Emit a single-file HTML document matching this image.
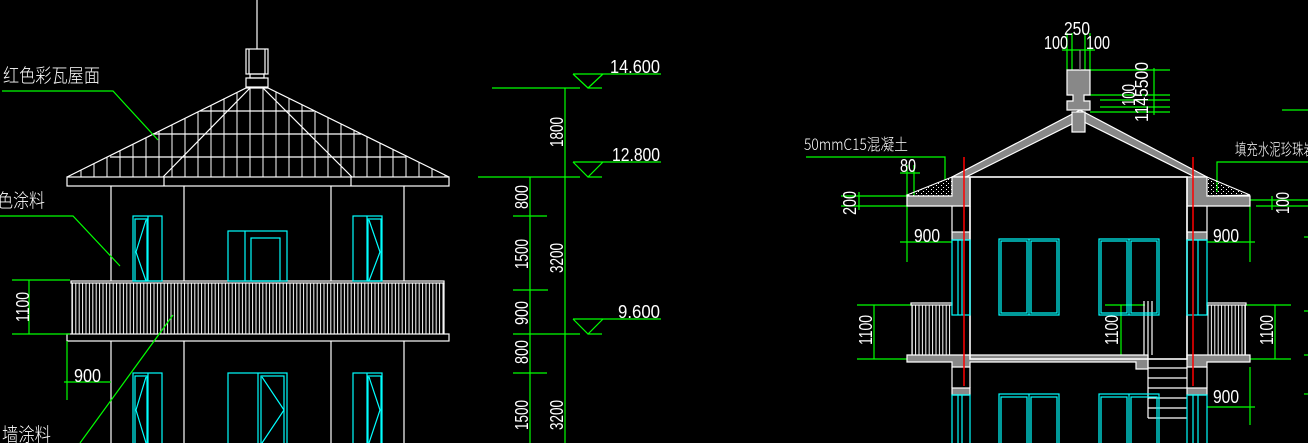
<!DOCTYPE html>
<html><head><meta charset="utf-8"><style>
html,body{margin:0;padding:0;background:#000;width:1308px;height:443px;overflow:hidden}
svg{display:block}
text{font-family:"Liberation Sans","Noto Sans CJK SC",sans-serif;fill:#fff}
.d{font-size:18px}
.cn{font-family:"Noto Sans CJK SC","WenQuanYi Zen Hei",sans-serif;font-size:19px;font-weight:300}
</style></head><body>
<svg width="1308" height="443" viewBox="0 0 1308 443" xmlns="http://www.w3.org/2000/svg">
<defs>
<pattern id="bars" width="3.4" height="10" patternUnits="userSpaceOnUse"><line x1="1" y1="0" x2="1" y2="10" stroke="#fff" stroke-width="1"/></pattern>
<pattern id="tiles" width="13" height="23" patternUnits="userSpaceOnUse" y="111"><line x1="3" y1="0" x2="3" y2="23" stroke="#fff"/></pattern>
<pattern id="dots" width="5" height="4" patternUnits="userSpaceOnUse"><rect x="1" y="1" width="1" height="1" fill="#fff"/><rect x="3" y="3" width="1" height="1" fill="#fff"/></pattern>
<clipPath id="roofc"><polygon points="67,177 246,88 268,88 449,177"/></clipPath>
</defs>
<g fill="none" stroke="#fff" stroke-width="1.2">
<line x1="257" y1="0" x2="257" y2="49"/>
<rect x="246" y="49" width="22" height="25"/>
<line x1="249" y1="49" x2="249" y2="74"/><line x1="265" y1="49" x2="265" y2="74"/>
<rect x="250" y="74" width="14" height="4"/>
<rect x="246" y="78" width="22" height="9"/>
<rect x="67" y="88" width="382" height="89" fill="url(#tiles)" stroke="none" clip-path="url(#roofc)"/>
<polyline points="67,177 246,88 268,88 449,177"/>
<line x1="200" y1="111" x2="314" y2="111"/>
<line x1="153" y1="134" x2="361" y2="134"/>
<line x1="110" y1="157" x2="406" y2="157"/>
<line x1="250" y1="88" x2="163" y2="177"/>
<line x1="263" y1="88" x2="352" y2="177"/>
<rect x="67" y="177" width="382" height="9"/>
<line x1="164" y1="177" x2="164" y2="186"/><line x1="351" y1="177" x2="351" y2="186"/>
<path d="M111 186V281M184 186V281M331 186V281M404 186V281M111 341V443M184 341V443M331 341V443M404 341V443"/>
<rect x="71" y="281" width="373" height="2"/>
<rect x="72" y="283" width="372" height="51" fill="url(#bars)" stroke="none"/>
<line x1="72" y1="283" x2="72" y2="334"/><line x1="444" y1="283" x2="444" y2="334"/>
<rect x="67" y="334" width="382" height="7"/>
</g>
<g fill="none" stroke="#0ff" stroke-width="1.2">
<rect x="133" y="216" width="29" height="65"/><line x1="148" y1="216" x2="148" y2="281"/>
<rect x="135" y="219" width="12" height="62"/><polyline points="146,220 136,252 146,281"/>
<rect x="353" y="216" width="29" height="65"/><line x1="367" y1="216" x2="367" y2="281"/>
<rect x="368" y="219" width="13" height="62"/><polyline points="369,220 380,252 369,281"/>
<rect x="228" y="231" width="59" height="50"/><line x1="245" y1="231" x2="245" y2="281"/>
<rect x="251" y="238" width="29" height="43"/>
<rect x="133" y="373" width="29" height="75"/><line x1="148" y1="373" x2="148" y2="443"/>
<rect x="135" y="376" width="12" height="70"/><polyline points="146,377 136,410 146,443"/>
<rect x="353" y="373" width="29" height="75"/><line x1="367" y1="373" x2="367" y2="443"/>
<rect x="368" y="376" width="13" height="70"/><polyline points="369,377 380,410 369,443"/>
<rect x="228" y="373" width="59" height="75"/><line x1="258" y1="373" x2="258" y2="443"/>
<rect x="261" y="376" width="23" height="70"/><polyline points="262,377 284,410 262,443"/>
</g>
<g fill="none" stroke="#0f0" stroke-width="1.2">
<polyline points="2,91 113,91 158,140"/>
<polyline points="0,216 73,216 120,266"/>
<line x1="80" y1="443" x2="173" y2="315"/>
<path d="M12 280H70M12 334H70M29 280V334M67 341V400M64 382H111"/>
<path d="M573 74H661M573 74L588 88L603 74M588 88H602M492 88H580"/>
<path d="M573 162H661M573 162L588 177L603 162M588 177H602M478 177H580"/>
<path d="M573 319H661M573 319L588 334L603 319M588 334H602M513 334H580"/>
<path d="M565 88V443M530 177V443M513 216H547M513 290H548M513 373H547"/>
<path d="M1067 33V70M1072 33V70M1085 33V70M1090 33V70M1062 50H1095"/>
<path d="M1090 70H1170M1090 95H1170M1100 100H1170M1100 107H1170M1090 112H1170M1154 68V115"/>
<polyline points="806,157 945,157 945,180"/>
<path d="M907 165V262M914 165V205M900 173H920M841 196H907M841 206H907M859 192V210M900 242H952"/>
<path d="M857 305H911M857 359H911M874 305V359"/>
<path d="M1105 305H1145M1100 359H1145M1121 305V359"/>
<polyline points="1217,192 1217,162 1308,162"/>
<path d="M1250 200H1308M1256 206H1308M1272 196V210M1207 242H1255M1250 206V262"/>
<path d="M1246 305H1291M1246 359H1291M1275 305V359"/>
<path d="M1207 407H1255M1250 367V425M1282 110H1308"/>
<path d="M1304 237H1308M1304 311H1308M1304 355H1308M1304 394H1308"/>
</g>
<g fill="#888" stroke="#fff" stroke-width="1.2">
<polygon points="1067,70 1090,70 1090,95 1084,95 1084,101 1090,101 1090,110 1067,110 1067,101 1073,101 1073,95 1067,95"/>
<polygon points="1080,110 1207,177 1195,177 1080,120 966,177 952,177"/>
<rect x="1072" y="112" width="13" height="20"/>
<polygon points="952,177 970,177 970,206 907,206 907,196 952,196"/>
<polygon points="1187,177 1207,177 1207,196 1250,196 1250,206 1187,206"/>
<rect x="952" y="232" width="18" height="8"/><rect x="1187" y="232" width="20" height="8"/>
<polygon points="907,355 1148,355 1148,369 1136,369 1136,362 970,362 970,367 952,367 952,362 907,362"/>
<polygon points="1187,355 1250,355 1250,362 1207,362 1207,367 1187,367"/>
<rect x="952" y="388" width="18" height="7"/><rect x="1187" y="388" width="20" height="7"/>
</g>
<g fill="url(#dots)" stroke="#fff" stroke-width="1">
<polygon points="907,195 952,177 952,196 910,196"/>
<polygon points="1207,177 1250,195 1207,196"/>
</g>
<g fill="none" stroke="#fff" stroke-width="1.2">
<line x1="1080" y1="50" x2="1080" y2="70" stroke="#888"/>
<rect x="970" y="177" width="217" height="182" stroke-width="1.6"/>
<path d="M952 206V232M970 206V232M1187 206V232M1207 206V232M952 367V388M970 367V388M1187 367V388M1207 367V388"/>
<rect x="911" y="303" width="41" height="2"/><rect x="912" y="305" width="40" height="50" fill="url(#bars)" stroke="none"/>
<line x1="912" y1="305" x2="912" y2="355"/>
<rect x="1207" y="303" width="39" height="2"/><rect x="1207" y="305" width="39" height="50" fill="url(#bars)" stroke="none"/>
<line x1="1245" y1="305" x2="1245" y2="355"/>
<path d="M1144 301V355M1148 301V418M1152 301V355"/>
<path d="M1148 368H1187M1148 378H1187M1148 388H1187M1148 398H1187M1148 408H1187M1148 418H1187"/>
</g>
<g fill="none" stroke="#0ff" stroke-width="1.2">
<rect x="952" y="240" width="18" height="75"/><line x1="958" y1="240" x2="958" y2="315"/><line x1="962" y1="240" x2="962" y2="315"/>
<rect x="1187" y="240" width="20" height="75"/><line x1="1193" y1="240" x2="1193" y2="315"/><line x1="1198" y1="240" x2="1198" y2="315"/>
<rect x="952" y="395" width="18" height="50"/><line x1="958" y1="395" x2="958" y2="443"/><line x1="962" y1="395" x2="962" y2="443"/>
<rect x="1187" y="395" width="20" height="50"/><line x1="1193" y1="395" x2="1193" y2="443"/><line x1="1198" y1="395" x2="1198" y2="443"/>
<rect x="999" y="239" width="60" height="76"/><line x1="1029" y1="239" x2="1029" y2="315"/>
<rect x="1001" y="241" width="26" height="72"/><rect x="1031" y="241" width="26" height="72"/>
<rect x="1099" y="239" width="60" height="76"/><line x1="1129" y1="239" x2="1129" y2="315"/>
<rect x="1101" y="241" width="26" height="72"/><rect x="1131" y="241" width="26" height="72"/>
<rect x="999" y="394" width="60" height="52"/><line x1="1029" y1="394" x2="1029" y2="443"/><rect x="1001" y="397" width="26" height="50"/><rect x="1031" y="397" width="26" height="50"/>
<rect x="1099" y="394" width="60" height="52"/><line x1="1129" y1="394" x2="1129" y2="443"/><rect x="1101" y="397" width="26" height="50"/><rect x="1131" y="397" width="26" height="50"/>
</g>
<g stroke="#f00" stroke-width="1.5"><line x1="964" y1="157" x2="964" y2="386"/><line x1="1193" y1="157" x2="1193" y2="386"/></g>
<text class="cn" x="3" y="82" textLength="97" lengthAdjust="spacingAndGlyphs">红色彩瓦屋面</text>
<text class="cn" x="-3" y="207" textLength="48" lengthAdjust="spacingAndGlyphs">色涂料</text>
<text class="cn" x="2" y="441" textLength="49" lengthAdjust="spacingAndGlyphs">墙涂料</text>
<text class="d" x="74" y="382" textLength="27" lengthAdjust="spacingAndGlyphs">900</text>
<text class="d" transform="translate(29,307) rotate(-90)" text-anchor="middle" textLength="30" lengthAdjust="spacingAndGlyphs">1100</text>
<text class="d" x="610" y="73" textLength="50" lengthAdjust="spacingAndGlyphs">14.600</text>
<text class="d" x="612" y="161" textLength="48" lengthAdjust="spacingAndGlyphs">12.800</text>
<text class="d" x="618" y="318" textLength="42" lengthAdjust="spacingAndGlyphs">9.600</text>
<text class="d" transform="translate(563,132) rotate(-90)" text-anchor="middle" textLength="30" lengthAdjust="spacingAndGlyphs">1800</text>
<text class="d" transform="translate(528,197) rotate(-90)" text-anchor="middle" textLength="24" lengthAdjust="spacingAndGlyphs">800</text>
<text class="d" transform="translate(528,254) rotate(-90)" text-anchor="middle" textLength="30" lengthAdjust="spacingAndGlyphs">1500</text>
<text class="d" transform="translate(563,258) rotate(-90)" text-anchor="middle" textLength="30" lengthAdjust="spacingAndGlyphs">3200</text>
<text class="d" transform="translate(528,313) rotate(-90)" text-anchor="middle" textLength="24" lengthAdjust="spacingAndGlyphs">900</text>
<text class="d" transform="translate(528,352) rotate(-90)" text-anchor="middle" textLength="24" lengthAdjust="spacingAndGlyphs">800</text>
<text class="d" transform="translate(528,415) rotate(-90)" text-anchor="middle" textLength="30" lengthAdjust="spacingAndGlyphs">1500</text>
<text class="d" transform="translate(563,415) rotate(-90)" text-anchor="middle" textLength="30" lengthAdjust="spacingAndGlyphs">3200</text>
<text class="d" x="1064" y="35" textLength="26" lengthAdjust="spacingAndGlyphs">250</text>
<text class="d" x="1044" y="49" textLength="24" lengthAdjust="spacingAndGlyphs">100</text>
<text class="d" x="1086" y="49" textLength="24" lengthAdjust="spacingAndGlyphs">100</text>
<text class="d" transform="translate(1148,92) rotate(-90)" text-anchor="middle" textLength="60" lengthAdjust="spacingAndGlyphs">1145500</text>
<text class="d" transform="translate(1135,95) rotate(-90)" text-anchor="middle" textLength="22" lengthAdjust="spacingAndGlyphs">100</text>
<text class="cn" x="804" y="150" style="font-size:16px" textLength="104" lengthAdjust="spacingAndGlyphs">50mmC15混凝土</text>
<text class="d" x="900" y="172" textLength="16" lengthAdjust="spacingAndGlyphs">80</text>
<text class="d" transform="translate(856,203) rotate(-90)" text-anchor="middle" textLength="24" lengthAdjust="spacingAndGlyphs">200</text>
<text class="d" x="914" y="242" textLength="26" lengthAdjust="spacingAndGlyphs">900</text>
<text class="d" x="1213" y="242" textLength="26" lengthAdjust="spacingAndGlyphs">900</text>
<text class="d" x="1213" y="403" textLength="26" lengthAdjust="spacingAndGlyphs">900</text>
<text class="d" transform="translate(872,330) rotate(-90)" text-anchor="middle" textLength="30" lengthAdjust="spacingAndGlyphs">1100</text>
<text class="d" transform="translate(1118,330) rotate(-90)" text-anchor="middle" textLength="30" lengthAdjust="spacingAndGlyphs">1100</text>
<text class="d" transform="translate(1273,330) rotate(-90)" text-anchor="middle" textLength="30" lengthAdjust="spacingAndGlyphs">1100</text>
<text class="d" transform="translate(1289,203) rotate(-90)" text-anchor="middle" textLength="22" lengthAdjust="spacingAndGlyphs">100</text>
<text class="cn" x="1235" y="155" style="font-size:16px" textLength="80" lengthAdjust="spacingAndGlyphs">填充水泥珍珠岩</text>
</svg>
</body></html>
